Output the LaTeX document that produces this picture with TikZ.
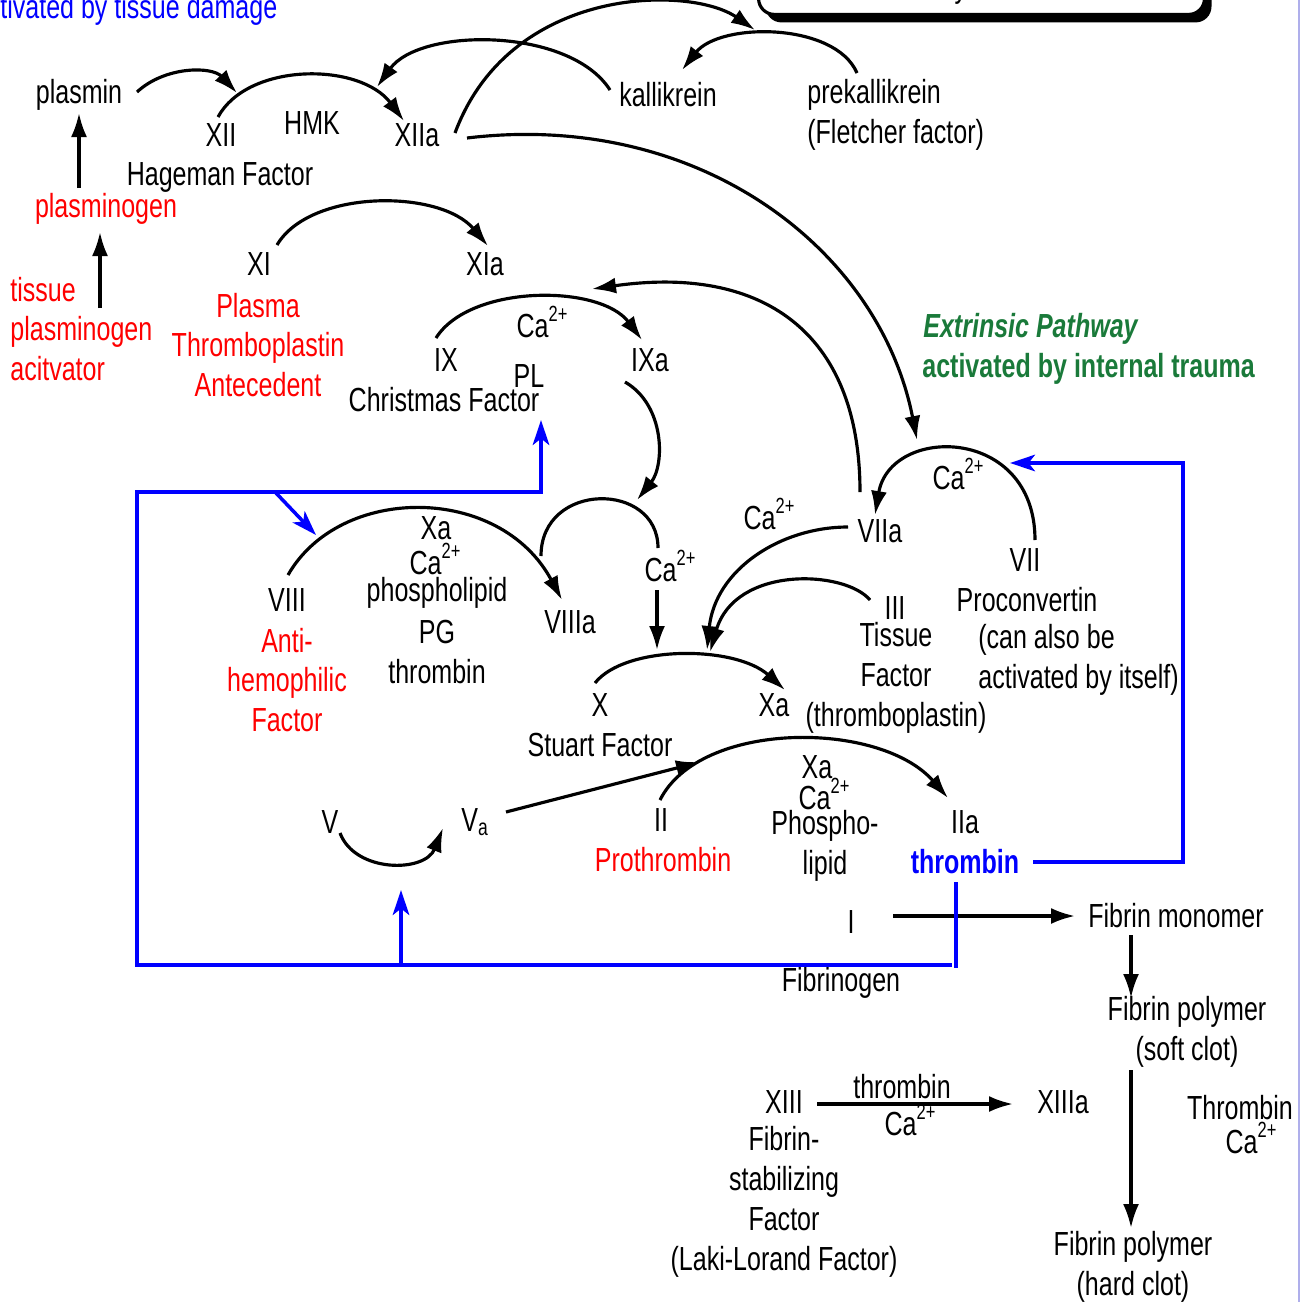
\documentclass[tikz,border=0pt]{standalone}
\usepackage{fontspec}
\setmainfont[FakeStretch=0.75]{Liberation Sans}
\usetikzlibrary{arrows.meta,positioning,shadows}
\definecolor{extgreen}{RGB}{26,122,58}
\definecolor{edgeblue}{RGB}{175,175,235}
\newcommand{\caii}{Ca\raisebox{9.5pt}{\fontsize{12.5}{12.5}\selectfont 2+}}

\begin{document}
\begin{tikzpicture}[
  x=0.02cm,y=-0.02cm,
  lbl/.style={inner sep=0pt,align=center,font=\fontsize{19}{22.7}\selectfont},
  redlbl/.style={lbl,text=red},
  greenlbl/.style={lbl,text=extgreen,font=\fontsize{19}{22.7}\selectfont\bfseries},
  notebox/.style={draw,line width=1.8pt,fill=white,rounded corners=9pt,
    minimum width=8.92cm,minimum height=2cm,
    drop shadow={shadow xshift=1.4mm,shadow yshift=-1.6mm,fill=black,opacity=1}},
  arr/.style={-{Latex[length=4.8mm,width=3.2mm]},line width=1.8pt},
  ln/.style={line width=1.8pt},
  fb/.style={blue,line width=2pt},
  fbarr/.style={fb,-{Stealth[length=5mm,width=3.3mm,inset=1.3mm]}}
]
\useasboundingbox (0,0) rectangle (1302,1302);
\draw[edgeblue,line width=0.6pt] (1299,0) -- (1299,1302);

% cut-off headings
\node[lbl,text=blue,anchor=west] (intr) at (0,10) {tivated by tissue damage};
\node[notebox,anchor=south west] (note) at (757,16) {};
\node[lbl,anchor=base west] (notetxt) at (772,-3) {to the active enzyme.};

% contact factors
\node[lbl] (plasmin) at (79,95) {plasmin};
\node[lbl] (xii) at (221,135) {XII};
\node[lbl] (hmk) at (312,123) {HMK};
\node[lbl] (xiia) at (417,135) {XIIa};
\node[lbl] (hageman) at (220,177) {Hageman Factor};
\node[lbl] (kall) at (668,95) {kallikrein};
\node[lbl,align=left,anchor=west] (prekall) at (807,115) {prekallikrein\\(Fletcher factor)};
\node[redlbl] (plasminogen) at (106,209) {plasminogen};
\node[redlbl,align=left,anchor=west] (tpa) at (10,329) {tissue\\plasminogen\\acitvator};

% intrinsic
\node[lbl] (xi) at (259,264) {XI};
\node[lbl] (xia) at (485,264) {XIa};
\node[redlbl] (pta) at (258,345) {Plasma\\Thromboplastin\\Antecedent};
\node[lbl] (ix) at (446,360) {IX};
\node[lbl] (ca1) at (542,322) {\caii};
\node[lbl] (ixa) at (650,360) {IXa};
\node[lbl] (pl) at (529,376) {PL};
\node[lbl] (christmas) at (444,400) {Christmas Factor};

% extrinsic
\node[greenlbl,anchor=west] (ext) at (923,329) {\itshape Extrinsic Pathway};
\node[greenlbl,anchor=west] (trauma) at (922,369) {activated by internal trauma};
\node[lbl] (ca2) at (958,474) {\caii};
\node[lbl] (viia) at (880,531) {VIIa};
\node[lbl] (ca3) at (769,514) {\caii};
\node[lbl] (vii) at (1025,560) {VII};
\node[lbl] (procon) at (1027,600) {Proconvertin};
\node[lbl,align=left,anchor=west] (selfact) at (978,660) {(can also be\\activated by itself)};
\node[lbl] (iii) at (895,608) {III};
\node[lbl] (tf) at (896,678) {Tissue\\Factor\\(thromboplastin)};

% factor VIII and X
\node[lbl] (ca4) at (670,566) {\caii};
\node[lbl] (viii) at (287,600) {VIII};
\node[redlbl] (ahf) at (287,680) {Anti-\\hemophilic\\Factor};
\node[lbl] (xa1) at (436,528) {Xa};
\node[lbl] (ca5) at (435,559) {\caii};
\node[lbl] (phos) at (437,593) {phospholipid};
\node[lbl] (pg) at (437,632) {PG};
\node[lbl] (thr1) at (437,672) {thrombin};
\node[lbl] (viiia) at (570,622) {VIIIa};
\node[lbl] (x) at (600,705) {X};
\node[lbl] (stuart) at (600,745) {Stuart Factor};
\node[lbl] (xa2) at (774,705) {Xa};

% prothrombin
\node[lbl] (v) at (330,822) {V};
\node[lbl] (va) at (475,822) {V\textsubscript{a}};
\node[lbl] (ii) at (661,820) {II};
\node[redlbl] (prothr) at (663,860) {Prothrombin};
\node[lbl] (xa3) at (817,767) {Xa};
\node[lbl] (ca6) at (824,794) {\caii};
\node[lbl] (phos2) at (825,846) {Phospho-\\lipid};
\node[lbl] (iia) at (965,822) {IIa};
\node[lbl,text=blue,font=\fontsize{19}{22.7}\selectfont\bfseries] (thrombin) at (965,862) {thrombin};

% fibrin
\node[lbl] (fibi) at (851,922) {I};
\node[lbl] (fibrinogen) at (841,983) {Fibrinogen};
\node[lbl] (mono) at (1176,916) {Fibrin monomer};
\node[lbl] (soft) at (1187,1032) {Fibrin polymer\\(soft clot)};
\node[lbl] (xiii) at (784,1102) {XIII};
\node[lbl] (thr2) at (902,1087) {thrombin};
\node[lbl] (ca7) at (910,1120) {\caii};
\node[lbl] (xiiia) at (1063,1102) {XIIIa};
\node[lbl] (fsf) at (784,1202) {Fibrin-\\stabilizing\\Factor\\(Laki-Lorand Factor)};
\node[lbl] (thr3) at (1240,1108) {Thrombin};
\node[lbl] (ca8) at (1251,1138) {\caii};
\node[lbl] (hard) at (1133,1267) {Fibrin polymer\\(hard clot)};

% arc ends
\coordinate (a1) at (137,92);  \coordinate (a2) at (237,93);
\coordinate (b1) at (218,117); \coordinate (b2) at (404,121);
\coordinate (c1) at (610,90);  \coordinate (c2) at (377,87);
\coordinate (d1) at (455,133); \coordinate (d2) at (755,30);
\coordinate (e1) at (857,73);  \coordinate (e2) at (682,70);
\coordinate (f1) at (467,138); \coordinate (f2) at (917,440);
\coordinate (g1) at (277,245); \coordinate (g2) at (488,246);
\coordinate (h1) at (436,338); \coordinate (h2) at (642,340);
\coordinate (i1) at (860,492); \coordinate (i2) at (592,289);
\coordinate (j1) at (625,382); \coordinate (j2) at (637,500);
\coordinate (k1) at (541,556); \coordinate (k2) at (658,548);
\coordinate (l1) at (657,590); \coordinate (l2) at (657,650);
\coordinate (m1) at (288,575); \coordinate (m2) at (562,600);
\coordinate (n1) at (595,683); \coordinate (n2) at (785,690);
\coordinate (o1) at (848,527); \coordinate (o2) at (707,650);
\coordinate (q1) at (870,600); \coordinate (q2) at (710,652);
\coordinate (r1) at (1035,540); \coordinate (r2) at (875,515);
\coordinate (s1) at (340,833); \coordinate (s2) at (443,828);
\coordinate (t1) at (506,812); \coordinate (t2) at (700,762);
\coordinate (u1) at (660,800); \coordinate (u2) at (948,798);
\coordinate (w1) at (893,916); \coordinate (w2) at (1075,916);
\coordinate (y1) at (817,1104); \coordinate (y2) at (1013,1104);
\coordinate (pg1) at (79,188); \coordinate (pg2) at (79,113);
\coordinate (tp1) at (100,308); \coordinate (tp2) at (100,232);
\coordinate (mp1) at (1131,935); \coordinate (mp2) at (1131,998);
\coordinate (sp1) at (1131,1070); \coordinate (sp2) at (1131,1228);

% black arrows
\draw[arr] (pg1) -- (pg2);
\draw[arr] (a1) .. controls (165,66) and (212,66) .. (a2);
\draw[arr] (b1) .. controls (248,62) and (360,62) .. (b2);
\draw[arr] (c1) .. controls (570,27) and (420,27) .. (c2);
\draw[arr] (d1) .. controls (510,-15) and (690,-15) .. (d2);
\draw[arr] (e1) .. controls (835,22) and (720,22) .. (e2);
\draw[arr] (f1) .. controls (700,110) and (880,250) .. (f2);
\draw[arr] (tp1) -- (tp2);
\draw[arr] (g1) .. controls (310,189) and (440,189) .. (g2);
\draw[arr] (h1) .. controls (470,284) and (600,284) .. (h2);
\draw[arr] (i1) .. controls (860,330) and (760,265) .. (i2);
\draw[arr] (j1) .. controls (665,405) and (665,465) .. (j2);
\draw[ln]  (k1) .. controls (541,481) and (658,481) .. (k2);
\draw[arr] (l1) -- (l2);
\draw[arr] (m1) .. controls (340,484) and (500,484) .. (m2);
\draw[arr] (n1) .. controls (625,645) and (735,645) .. (n2);
\draw[arr] (o1) .. controls (780,527) and (715,570) .. (o2);
\draw[arr] (q1) .. controls (845,570) and (735,565) .. (q2);
\draw[arr] (r1) .. controls (1035,425) and (890,425) .. (r2);
\draw[arr] (s1) .. controls (355,873) and (425,873) .. (s2);
\draw[arr] (t1) -- (t2);
\draw[arr] (u1) .. controls (700,720) and (880,720) .. (u2);
\draw[arr] (w1) -- (w2);
\draw[arr] (mp1) -- (mp2);
\draw[arr] (sp1) -- (sp2);
\draw[arr] (y1) -- (y2);

% thrombin feedback
\coordinate (fbA) at (1033,862); \coordinate (fbC) at (1183,463); \coordinate (fbB) at (1010,463);
\coordinate (fbD) at (956,882);  \coordinate (fbE) at (956,968);
\coordinate (fbG) at (952,965);  \coordinate (fbH) at (137,492);
\coordinate (fbI) at (541,492);  \coordinate (fbJ) at (541,420);
\coordinate (fbK) at (276,493);  \coordinate (fbL) at (316,535);
\coordinate (fbM) at (401,965);  \coordinate (fbN) at (401,890);
\draw[fbarr] (fbA) -| (fbC) -- (fbB);
\draw[fb] (fbD) -- (fbE);
\draw[fbarr] (fbG) -| (fbH) -- (fbI) -- (fbJ);
\draw[fbarr] (fbK) -- (fbL);
\draw[fbarr] (fbM) -- (fbN);
\end{tikzpicture}
\end{document}
